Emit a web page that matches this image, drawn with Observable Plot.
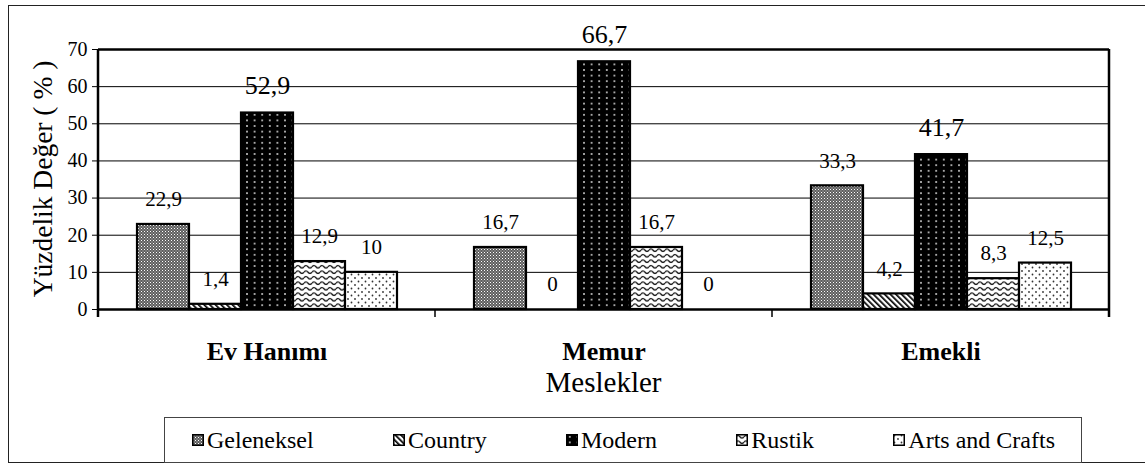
<!DOCTYPE html>
<html><head><meta charset="utf-8">
<script src="https://cdn.jsdelivr.net/npm/d3@7"></script>
<script src="https://cdn.jsdelivr.net/npm/@observablehq/plot@0.6"></script>
<style>
body{margin:0;background:#fff;font-family:"Liberation Serif","Tinos","Times New Roman","Times","Nimbus Roman","DejaVu Serif","Noto Serif",serif;}
#wrap{position:relative;width:1145px;height:464px;overflow:hidden;background:#fff;}
#outer{position:absolute;left:8px;top:5px;width:1160px;height:458px;border:1.5px solid #222;box-sizing:border-box;}
#chart{position:absolute;left:0;top:0;}
#legend{position:absolute;left:164px;top:417px;width:918px;height:46px;border:1px solid #444;box-sizing:border-box;display:flex;align-items:center;justify-content:space-between;padding:0 26px 0 27px;font-size:24px;color:#000;}
.item{display:flex;align-items:center;white-space:nowrap;}
.item svg{margin-right:3px;}
</style></head>
<body>
<svg width="0" height="0" style="position:absolute;left:0;top:0">
<defs>
<pattern id="pGel" width="3" height="3" patternUnits="userSpaceOnUse">
 <rect width="3" height="3" fill="#5e5e5e"/>
 <rect x="0" y="0" width="1" height="1" fill="#fff"/>
 <rect x="1.5" y="1.5" width="1" height="1" fill="#cfcfcf"/>
</pattern>
<pattern id="pCou" width="4" height="4" patternUnits="userSpaceOnUse" patternTransform="rotate(-45)">
 <rect width="4" height="4" fill="#fff"/>
 <rect width="1.7" height="4" fill="#000"/>
</pattern>
<pattern id="pMod" width="7.6" height="5.6" patternUnits="userSpaceOnUse">
 <rect width="7.6" height="5.6" fill="#000"/>
 <rect x="3" y="2" width="1.6" height="1.6" fill="#e8e8e8"/>
</pattern>
<pattern id="pRus" width="8" height="5.5" patternUnits="userSpaceOnUse">
 <rect width="8" height="5.5" fill="#fff"/>
 <path d="M0,2.75 Q2,0.25 4,2.75 T8,2.75" fill="none" stroke="#000" stroke-width="1.2"/>
</pattern>
<pattern id="pArt" width="7" height="7" patternUnits="userSpaceOnUse">
 <rect width="7" height="7" fill="#fff"/>
 <circle cx="1.5" cy="1.5" r="0.9" fill="#333"/>
 <circle cx="5" cy="5" r="0.9" fill="#333"/>
</pattern>
</defs>
</svg>
<div id="wrap"><div id="outer"></div><div id="chart"></div><div id="legend"></div></div>
<script>
const groups = ["Ev Hanımı", "Memur", "Emekli"];
const series = ["Geleneksel", "Country", "Modern", "Rustik", "Arts and Crafts"];
const geleneksel = [22.9, 16.7, 33.3];
const country = [1.4, 0, 4.2];
const modern = [52.9, 66.7, 41.7];
const rustik = [12.9, 16.7, 8.3];
const artsAndCrafts = [10, 0, 12.5];
const yTicks = [0, 10, 20, 30, 40, 50, 60, 70];
const yLabel = "Yüzdelik Değer ( % )";
const xLabel = "Meslekler";

const fills = ["url(#pGel)", "url(#pCou)", "url(#pMod)", "url(#pRus)", "url(#pArt)"];
const valuesBySeries = [geleneksel, country, modern, rustik, artsAndCrafts];
const rows = [];
groups.forEach((g, gi) => series.forEach((s, si) => rows.push({group: g, series: s, value: valuesBySeries[si][gi]})));
const fmt = v => String(v).replace(".", ",");

const font = "'Liberation Serif', Tinos, 'Times New Roman', Times, 'Nimbus Roman', 'DejaVu Serif', 'Noto Serif', serif";
const chart = Plot.plot({
  width: 1145, height: 410,
  marginLeft: 98, marginRight: 36, marginTop: 49, marginBottom: 101,
  style: {background: "transparent", fontFamily: font, color: "#000", overflow: "visible"},
  fx: {domain: groups, padding: 0, axis: null},
  x: {domain: series, paddingInner: 0, paddingOuter: 0.716, axis: null},
  y: {domain: [0, 70], axis: null},
  color: {type: "ordinal", domain: series, range: fills},
  marks: [
    Plot.gridY(yTicks.filter(t => t > 0 && t < 70), {stroke: "#000", strokeOpacity: 1, strokeWidth: 1}),
    Plot.barY(rows, {fx: "group", x: "series", y: "value", fill: "series", stroke: "#000", strokeWidth: 2.2}),
    Plot.text(rows, {filter: d => d.series !== "Modern", fx: "group", x: "series", y: "value", text: d => fmt(d.value), dy: -25, lineAnchor: "middle", fontSize: 21, fill: "#000"}),
    Plot.text(rows, {filter: d => d.series === "Modern", fx: "group", x: "series", y: "value", text: d => fmt(d.value), dy: -27, lineAnchor: "middle", fontSize: 26, fill: "#000"}),
    Plot.ruleY([70], {stroke: "#000", strokeWidth: 2.5}),
    Plot.ruleY([0], {stroke: "#000", strokeWidth: 2.5}),
    Plot.axisY(yTicks, {tickSize: 6, tickPadding: 5, fontSize: 20, label: null, stroke: "#000"}),
    Plot.axisFx({anchor: "bottom", tickSize: 0, tickPadding: 32, fontSize: 26, fontWeight: "bold", label: null})
  ]
});
document.getElementById("chart").appendChild(chart);
d3.select(chart).selectAll("text").style("font-family", font);

// frame edges and group-boundary ticks, from the plot's own scales
const fxs = chart.scale("fx"), ys = chart.scale("y");
const svg = d3.select(chart);
const y0 = ys.apply(0), y70 = ys.apply(70);
const bounds = groups.map(g => fxs.apply(g)).concat([fxs.apply(groups[groups.length - 1]) + fxs.bandwidth]);
const g = svg.append("g").attr("stroke", "#000");
bounds.forEach((bx, i) => {
  const edge = i === 0 || i === bounds.length - 1;
  g.append("line").attr("x1", bx).attr("x2", bx)
    .attr("y1", edge ? y70 : y0).attr("y2", y0 + 8)
    .attr("stroke-width", edge ? 2.5 : 1.5);
});
const [r0, r1] = fxs.range;
svg.append("text").attr("x", (r0 + r1) / 2).attr("y", 392)
  .attr("text-anchor", "middle").attr("font-size", 29).attr("fill", "#000").style("font-family", font)
  .text(xLabel);
svg.append("text").attr("transform", `translate(52,${(y0 + y70) / 2}) rotate(-90)`)
  .attr("text-anchor", "middle").attr("font-size", 27.5).attr("fill", "#000").style("font-family", font)
  .text(yLabel);

// legend
const legend = d3.select("#legend");
series.forEach((s, i) => {
  const it = legend.append("div").attr("class", "item");
  const sw = it.append("svg").attr("width", 12).attr("height", 12);
  sw.append("rect").attr("x", 0.75).attr("y", 0.75).attr("width", 10.5).attr("height", 10.5)
    .attr("fill", fills[i]).attr("stroke", "#000").attr("stroke-width", 1.5);
  it.append("span").text(s);
});
</script>
</body></html>
